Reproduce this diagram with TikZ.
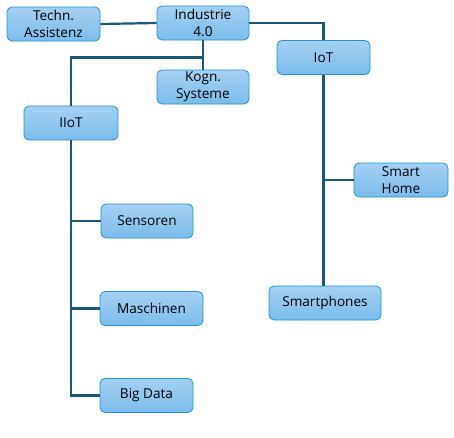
\documentclass[tikz,border=0pt]{standalone}
\usepackage{fontspec}
\setmainfont{Open Sans}
\usetikzlibrary{calc,positioning}
\definecolor{BoxTop}{RGB}{164,209,244}
\definecolor{BoxBot}{RGB}{122,188,235}
\definecolor{BoxRim}{RGB}{30,150,210}
\definecolor{LinkBlue}{RGB}{24,88,120}
\tikzset{
  topic/.style={draw=BoxRim,line width=.8pt,rounded corners=5pt,top color=BoxTop,bottom color=BoxBot,
    align=center,font=\fontsize{13.6}{16.5}\selectfont,inner sep=0pt,minimum height=34pt},
  link/.style={LinkBlue,line width=2.2pt}
}
\begin{document}
\begin{tikzpicture}[x=1pt,y=-1pt]
\useasboundingbox (0,0) rectangle (454,437);
\node[topic,minimum width=93pt] (tech) at (53.5,24){Techn.\\Assistenz};
\node[topic,minimum width=92pt] (ind) at (203,23){Industrie\\4.0};
\node[topic,minimum width=92pt] (kogn) at (203,87){Kogn.\\Systeme};
\node[topic,minimum width=93pt] (iot) at (323.5,57.5){IoT};
\node[topic,minimum width=94pt] (iiot) at (71,123){IIoT};
\node[topic,minimum width=92pt] (sens) at (147,221){Sensoren};
\node[topic,minimum width=103pt] (masch) at (151.5,308.5){Maschinen};
\node[topic,minimum width=93pt] (bigd) at (146.5,395.5){Big Data};
\node[topic,minimum width=94pt] (home) at (401,180){Smart\\Home};
\node[topic,minimum width=112pt] (phone) at (325,303){Smartphones};
% Verbindungen
\draw[link] (tech.east)--(ind.west);
\draw[link] (ind.east)-|(iot.north);
\draw[link] (ind.south)--(kogn.north);
\draw[link] (ind.south)++(0,17)-|(iiot.north);
\draw[link] (iiot.south)|-(bigd.west);
\draw[link] (iiot.south|-sens.west)--(sens.west);
\draw[link] (iiot.south|-masch.west)--(masch.west);
\draw[link] (iot.south)--(iot.south|-phone.north);
\draw[link] (iot.south|-home.west)--(home.west);
\end{tikzpicture}
\end{document}
